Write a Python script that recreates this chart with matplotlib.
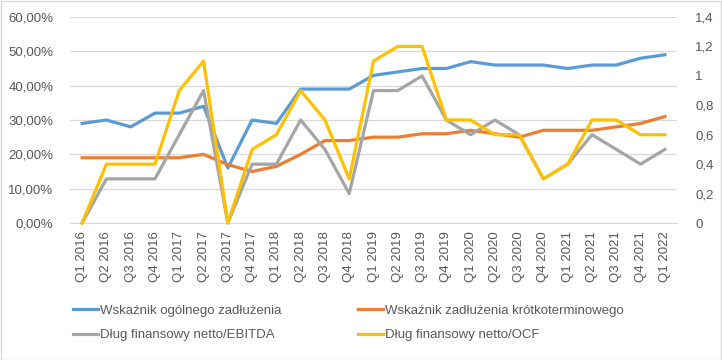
import matplotlib
matplotlib.use('Agg')
import matplotlib.pyplot as plt
from matplotlib.ticker import FuncFormatter, MultipleLocator
from matplotlib.patches import Rectangle

plt.rcParams['font.family'] = ['Liberation Sans', 'DejaVu Sans']

quarters = ['Q1 2016', 'Q2 2016', 'Q3 2016', 'Q4 2016',
            'Q1 2017', 'Q2 2017', 'Q3 2017', 'Q4 2017',
            'Q1 2018', 'Q2 2018', 'Q3 2018', 'Q4 2018',
            'Q1 2019', 'Q2 2019', 'Q3 2019', 'Q4 2019',
            'Q1 2020', 'Q2 2020', 'Q3 2020', 'Q4 2020',
            'Q1 2021', 'Q2 2021', 'Q3 2021', 'Q4 2021',
            'Q1 2022']

# left axis (share)
ogolne = [0.29, 0.30, 0.28, 0.32, 0.32, 0.34, 0.16, 0.30, 0.29, 0.39, 0.39, 0.39,
          0.43, 0.44, 0.45, 0.45, 0.47, 0.46, 0.46, 0.46, 0.45, 0.46, 0.46, 0.48, 0.49]
krotko = [0.19, 0.19, 0.19, 0.19, 0.19, 0.20, 0.17, 0.15, 0.165, 0.20, 0.24, 0.24,
          0.25, 0.25, 0.26, 0.26, 0.27, 0.26, 0.25, 0.27, 0.27, 0.27, 0.28, 0.29, 0.31]
# right axis (multiples)
ebitda = [0.0, 0.3, 0.3, 0.3, 0.6, 0.9, 0.0, 0.4, 0.4, 0.7, 0.5, 0.2,
          0.9, 0.9, 1.0, 0.7, 0.6, 0.7, 0.6, 0.3, 0.4, 0.6, 0.5, 0.4, 0.5]
ocf = [0.0, 0.4, 0.4, 0.4, 0.9, 1.1, 0.0, 0.5, 0.6, 0.9, 0.7, 0.3,
       1.1, 1.2, 1.2, 0.7, 0.7, 0.6, 0.6, 0.3, 0.4, 0.7, 0.7, 0.6, 0.6]

labels = ['Wskaźnik ogólnego zadłużenia', 'Wskaźnik zadłużenia krótkoterminowego',
          'Dług finansowy netto/EBITDA', 'Dług finansowy netto/OCF']
colors = ['#5B9BD5', '#ED7D31', '#A5A5A5', '#FFC000']
txt = '#595959'
lw = 2.3

fig = plt.figure(figsize=(7.22, 3.6), dpi=100)
ax = fig.add_axes([70 / 722, 1 - 223 / 360, 607 / 722, 206 / 360])
ax2 = ax.twinx()

x = list(range(len(quarters)))
l1, = ax.plot(x, ogolne, color=colors[0], lw=lw, solid_joinstyle='round')
l2, = ax.plot(x, krotko, color=colors[1], lw=lw, solid_joinstyle='round')
l3, = ax2.plot(x, ebitda, color=colors[2], lw=lw, solid_joinstyle='round', clip_on=False)
l4, = ax2.plot(x, ocf, color=colors[3], lw=lw, solid_joinstyle='round', clip_on=False)

ax.set_xlim(-0.5, len(quarters) - 0.5)
ax.set_ylim(0, 0.6)
ax2.set_ylim(0, 1.4)
ax.yaxis.set_major_locator(MultipleLocator(0.1))
ax2.yaxis.set_major_locator(MultipleLocator(0.2))
ax.yaxis.set_major_formatter(FuncFormatter(lambda v, p: ('%.2f%%' % (v * 100)).replace('.', ',')))
ax2.yaxis.set_major_formatter(FuncFormatter(lambda v, p: ('%g' % round(v, 1)).replace('.', ',')))

ax.set_xticks(x)
ax.set_xticklabels(quarters, rotation=90)
ax.grid(axis='y', color='#D9D9D9', lw=0.9)
ax.set_axisbelow(True)
for a in (ax, ax2):
    for s in a.spines.values():
        s.set_visible(False)
    a.tick_params(length=0, labelsize=9.5, colors=txt)
ax.spines['bottom'].set_visible(True)
ax.spines['bottom'].set_color('#D9D9D9')
ax.tick_params(axis='y', pad=12)
ax2.tick_params(axis='y', pad=13)
ax.tick_params(axis='x', pad=6)

fig.legend([l1, l3, l2, l4], [labels[0], labels[2], labels[1], labels[3]],
           ncol=2, loc='upper left', bbox_to_anchor=(61 / 722, 1 - 293 / 360),
           frameon=False, fontsize=9.5, labelcolor=txt, handlelength=1.9,
           handletextpad=0.15, columnspacing=5.8, labelspacing=0.9)

fig.patches.append(Rectangle((0.5 / 722, 0.5 / 360), 720 / 722, 358.5 / 360,
                             transform=fig.transFigure, fill=False,
                             edgecolor='#D9D9D9', lw=1))

fig.savefig('out.png', dpi=100)
